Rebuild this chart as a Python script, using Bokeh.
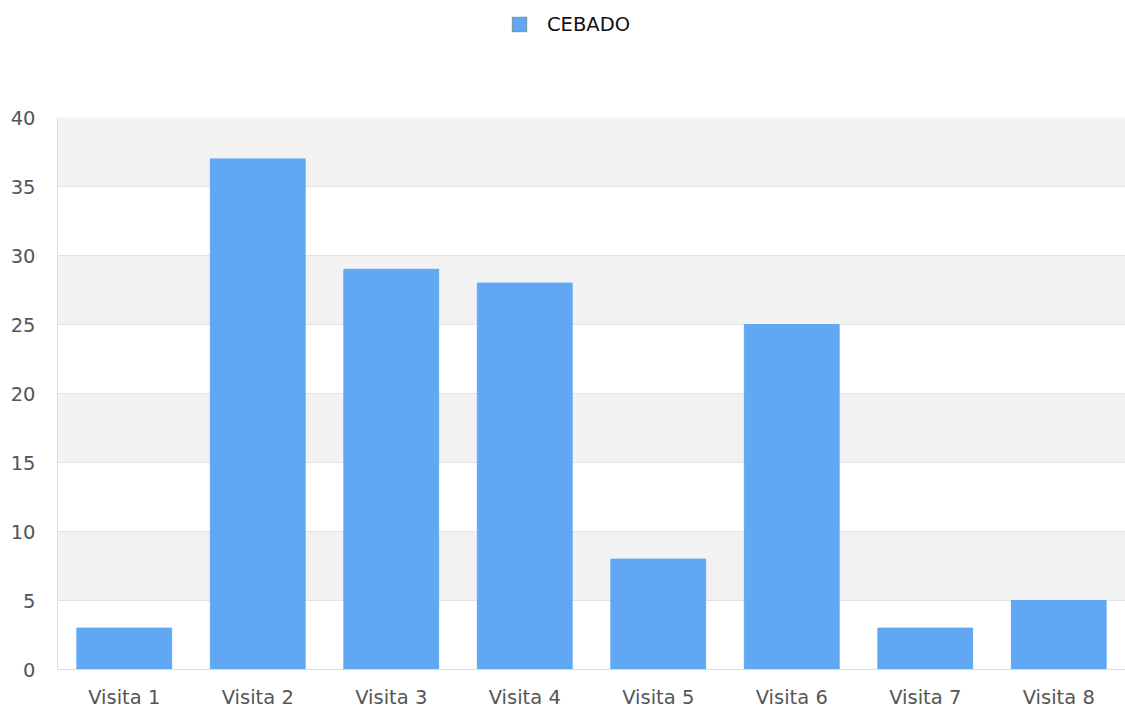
from bokeh.plotting import figure
from bokeh.layouts import column
from bokeh.models import FactorRange, Range1d, SingleIntervalTicker, Legend, LegendItem, ColumnDataSource
from bokeh.embed import file_html
from bokeh.resources import INLINE

categories = ["Visita 1", "Visita 2", "Visita 3", "Visita 4", "Visita 5", "Visita 6", "Visita 7", "Visita 8"]
cebado = [3, 37, 29, 28, 8, 25, 3, 5]
series_name = "CEBADO"

BAR = "#60a8f4"
FONT = "DejaVu Sans"
W = 1125
TOP_H = 60

src = ColumnDataSource(dict(x=categories, top=cebado))

# --- legend strip (its series renderer lies outside the strip's visible range) ---
lg = figure(width=W, height=TOP_H, output_backend="svg", toolbar_location=None,
            x_range=FactorRange(factors=categories, range_padding=0), y_range=Range1d(1000, 1001),
            x_axis_type=None, y_axis_type=None)
lg.min_border = 0
lg.outline_line_color = None
lg.xgrid.visible = False
lg.ygrid.visible = False
sw = lg.vbar(x="x", top="top", width=0.71, source=src, fill_color=BAR, line_color="#7f8a96", line_width=1)
legend = Legend(items=[LegendItem(label=series_name, renderers=[sw])],
                location=(453, 24), orientation="horizontal",
                glyph_width=18, glyph_height=18, label_height=24, label_standoff=19,
                padding=0, margin=0, spacing=0,
                border_line_color=None, background_fill_alpha=0,
                label_text_font=FONT, label_text_font_size="19.5px", label_text_color="#111111")
lg.add_layout(legend, "center")

# --- main chart ---
p = figure(width=W, height=711 - TOP_H, output_backend="svg", toolbar_location=None,
           x_range=FactorRange(factors=categories, range_padding=0),
           y_range=Range1d(0, 40))
p.min_border_left = 57
p.min_border_top = 117 - TOP_H
p.min_border_right = 0
p.min_border_bottom = 0
p.outline_line_color = None
p.background_fill_color = "white"

p.vbar(x="x", top="top", width=0.71, source=src, fill_color=BAR, line_color=BAR, line_width=1)

p.yaxis.ticker = SingleIntervalTicker(interval=5)
p.ygrid.ticker = SingleIntervalTicker(interval=5)
p.ygrid.grid_line_color = "#e3e3e3"
p.ygrid.band_fill_color = "#f2f2f2"
p.ygrid.band_fill_alpha = 1
p.xgrid.grid_line_color = None

for ax in (p.xaxis, p.yaxis):
    ax.major_tick_line_color = None
    ax.minor_tick_line_color = None
    ax.major_tick_out = 0
    ax.major_tick_in = 0
    ax.minor_tick_out = 0
    ax.minor_tick_in = 0
    ax.axis_line_color = "#dcdcdc"
    ax.major_label_text_font = FONT
    ax.major_label_text_font_size = "19.5px"
    ax.major_label_text_color = "#555555"
p.yaxis.major_label_standoff = 22
p.xaxis.major_label_standoff = 16

layout = column(lg, p, spacing=0)
open("out.html", "w").write(file_html(layout, INLINE))
